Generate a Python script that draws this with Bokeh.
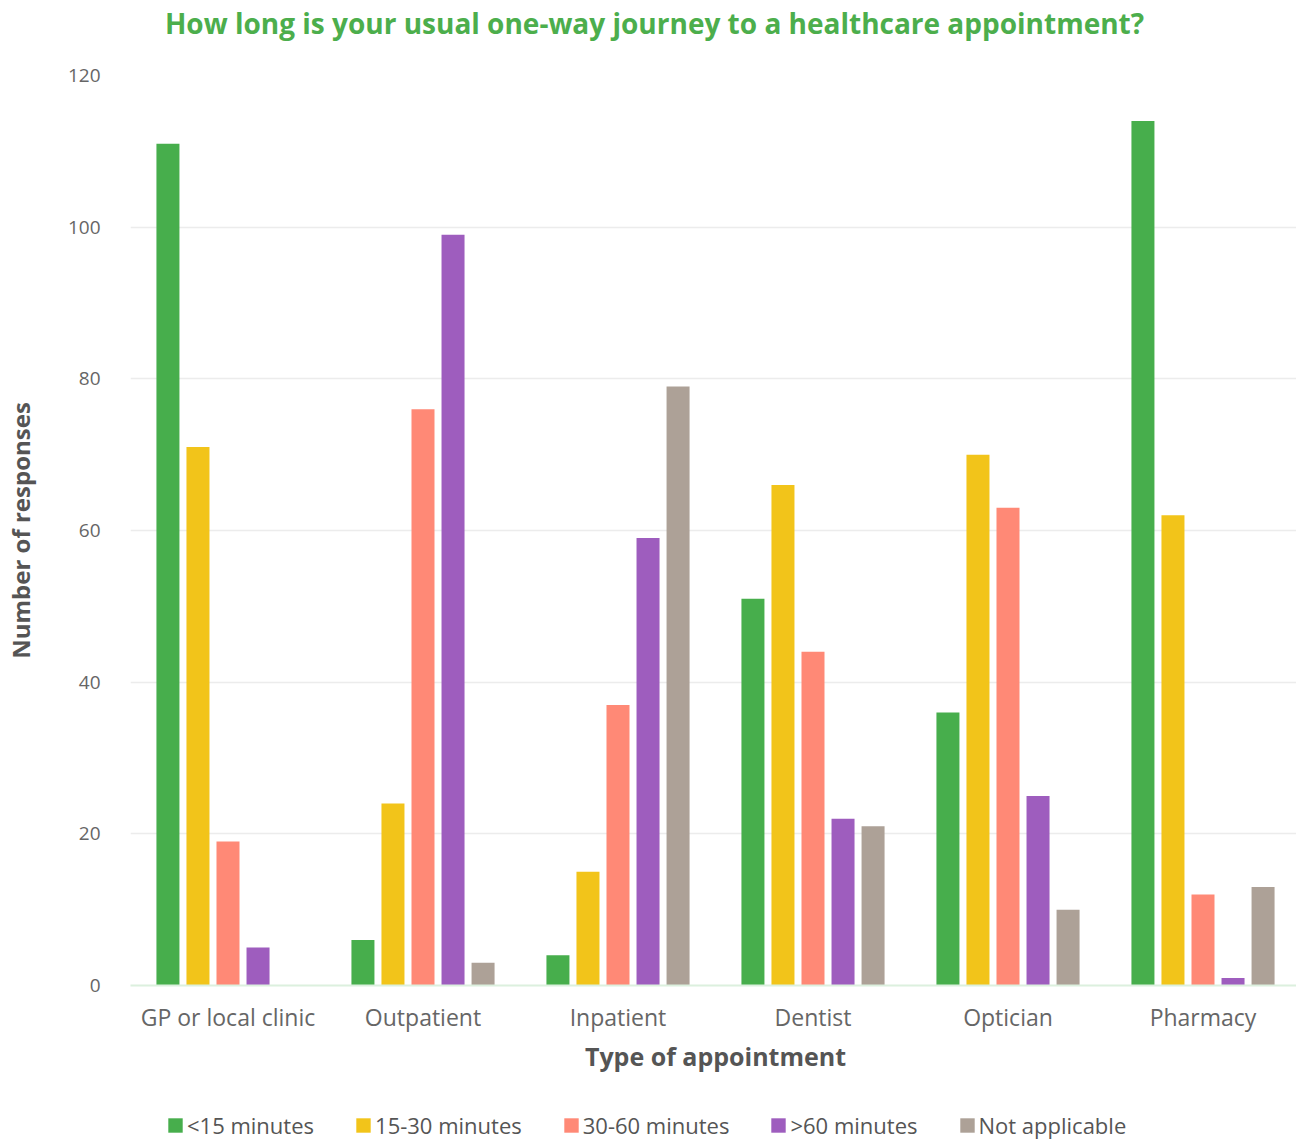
from bokeh.plotting import figure
from bokeh.models import ColumnDataSource, FactorRange, Legend, LegendItem, Range1d, Label
from bokeh.layouts import column
from bokeh.transform import dodge
from bokeh.embed import file_html
from bokeh.resources import INLINE

categories = ["GP or local clinic", "Outpatient", "Inpatient", "Dentist", "Optician", "Pharmacy"]
series_names = ["<15 minutes", "15-30 minutes", "30-60 minutes", ">60 minutes", "Not applicable"]
under_15 = [111, 6, 4, 51, 36, 114]
min_15_30 = [71, 24, 15, 66, 70, 62]
min_30_60 = [19, 76, 37, 44, 63, 12]
over_60 = [5, 99, 59, 22, 25, 1]
not_applicable = [0, 3, 79, 21, 10, 13]
y_ticks = [0, 20, 40, 60, 80, 100, 120]
title_text = "How long is your usual one-way journey to a healthcare appointment?"

colors = ["#47ae4c", "#f2c41a", "#ff8976", "#9e5dbe", "#ada197"]
keys = ["s0", "s1", "s2", "s3", "s4"]

src = ColumnDataSource(dict(cat=categories, s0=under_15, s1=min_15_30, s2=min_30_60,
                            s3=over_60, s4=not_applicable))

FONT = "Open Sans"
W = 1296
TITLE_H = 55
LEG_H = 56


def blank_fig(h):
    f = figure(width=W, height=h, x_range=Range1d(0, 1), y_range=Range1d(0, 1),
               output_backend="svg", toolbar_location=None, title=None,
               x_axis_location=None, y_axis_location=None, min_border=0)
    f.grid.visible = False
    f.outline_line_color = None
    f.background_fill_color = "white"
    f.border_fill_color = "white"
    return f


# --- title strip
tf = blank_fig(TITLE_H)
tf.add_layout(Label(x=524, y=TITLE_H - 22, x_units="screen", y_units="screen", text=title_text,
                    text_font=FONT, text_font_size="28px", text_font_style="bold",
                    text_color="#4cae4c", text_align="center", text_baseline="middle"))

# --- main chart
p = figure(x_range=FactorRange(factors=categories, range_padding=0),
           y_range=Range1d(0, 120), title=None,
           frame_width=1170, frame_height=910, output_backend="svg", toolbar_location=None,
           min_border_left=125, min_border_right=1, min_border_top=20, min_border_bottom=100)

offsets = [-0.308, -0.154, 0.0, 0.154, 0.308]
for k, off, c in zip(keys, offsets, colors):
    p.vbar(x=dodge("cat", off, range=p.x_range), top=k, width=0.118, source=src,
           fill_color=c, line_color=None)

p.outline_line_color = None
p.background_fill_color = "white"
p.border_fill_color = "white"

p.xgrid.grid_line_color = None
p.ygrid.grid_line_color = "#ececec"
p.ygrid.grid_line_width = 1.5

p.yaxis.ticker = y_ticks
p.yaxis.axis_line_color = None
p.yaxis.major_tick_line_color = None
p.yaxis.minor_tick_line_color = None
p.yaxis.major_label_text_font = FONT
p.yaxis.major_label_text_font_size = "19px"
p.yaxis.major_label_text_color = "#666666"
p.yaxis.major_label_standoff = 24
p.yaxis.axis_label = "Number of responses"
p.yaxis.axis_label_text_font = FONT
p.yaxis.axis_label_text_font_size = "24px"
p.yaxis.axis_label_text_font_style = "bold"
p.yaxis.axis_label_text_color = "#555555"
p.yaxis.axis_label_standoff = 28

p.xaxis.axis_line_color = "#dcf0de"
p.xaxis.axis_line_width = 2
p.xaxis.major_tick_line_color = None
p.xaxis.minor_tick_line_color = None
p.xaxis.major_label_text_font = FONT
p.xaxis.major_label_text_font_size = "23px"
p.xaxis.major_label_text_color = "#666666"
p.xaxis.major_label_standoff = 9
p.xaxis.axis_label = "Type of appointment"
p.xaxis.axis_label_text_font = FONT
p.xaxis.axis_label_text_font_size = "25px"
p.xaxis.axis_label_text_font_style = "bold"
p.xaxis.axis_label_text_color = "#555555"
p.xaxis.axis_label_standoff = 3

# --- legend strip (swatches come from zero-height proxy bars)
lf = blank_fig(LEG_H)
leg_renderers = [lf.vbar(x=[0.5], top=[0], width=0.1, fill_color=c, line_color=None) for c in colors]
legend = Legend(items=[LegendItem(label=n, renderers=[r]) for n, r in zip(series_names, leg_renderers)],
                orientation="horizontal", location=(36, 1))
legend.label_text_font = FONT
legend.label_text_font_size = "22px"
legend.label_text_color = "#555555"
legend.label_height = 24
legend.glyph_width = 18
legend.glyph_height = 18
legend.spacing = 40
legend.label_standoff = 3
legend.border_line_color = None
legend.background_fill_alpha = 0
legend.margin = 0
legend.padding = 0
lf.add_layout(legend, "center")

layout = column(tf, p, lf, spacing=0)
open("out.html", "w").write(file_html(layout, INLINE))
